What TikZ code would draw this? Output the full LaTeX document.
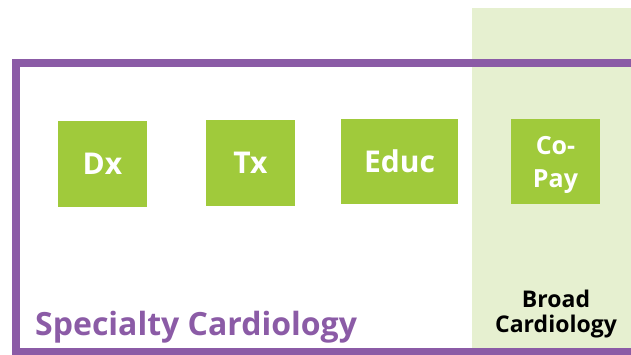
\documentclass[tikz,border=0pt]{standalone}
\usepackage{fontspec}
\setmainfont{Open Sans}
\definecolor{leaf}{HTML}{A0CA3B}
\definecolor{paleleaf}{HTML}{E6F0D0}
\definecolor{plum}{HTML}{8B5BA6}
\begin{document}
\begin{tikzpicture}[x=1pt,y=-1pt,
  tile/.style={fill=leaf, draw=none, inner sep=0pt},
  tiletext/.style={anchor=base, text=white, font=\fontsize{#1}{#1}\selectfont\bfseries, inner sep=0pt},
  frame/.style={draw=plum, line width=8pt}]
  \clip (0,0) rectangle (631,354);
  % broad cardiology band
  \fill[paleleaf] (472,8) rectangle (640,360);
  % specialty cardiology frame, open on the right
  \draw[frame] (650,63) -- (16,63) -- (16,351.5) -- (650,351.5);
  % service tiles
  \node[tile, minimum width=89pt, minimum height=86pt] (dx) at (102.5,164) {};
  \node[tile, minimum width=89pt, minimum height=86pt] (tx) at (250.5,163) {};
  \node[tile, minimum width=117pt, minimum height=85pt] (educ) at (399.5,161.5) {};
  \node[tile, minimum width=89pt, minimum height=85pt] (copay) at (555.5,161.5) {};
  \node[tiletext=30] (dxl) at (102.5,174) {Dx};
  \node[tiletext=30] (txl) at (250.5,173) {Tx};
  \node[tiletext=30] (educl) at (399.5,172) {Educ};
  \node[tiletext=25] (copayl1) at (555.5,154) {Co-};
  \node[tiletext=25] (copayl2) at (555.5,187) {Pay};
  % region labels
  \node[anchor=base west, inner sep=0pt, text=plum, font=\fontsize{32}{32}\selectfont\bfseries] (spec) at (35,335) {Specialty Cardiology};
  \node[anchor=base, inner sep=0pt, font=\fontsize{23}{23}\selectfont\bfseries] (broad1) at (556,307) {Broad};
  \node[anchor=base, inner sep=0pt, font=\fontsize{23}{23}\selectfont\bfseries] (broad2) at (556,332) {Cardiology};
\end{tikzpicture}
\end{document}
